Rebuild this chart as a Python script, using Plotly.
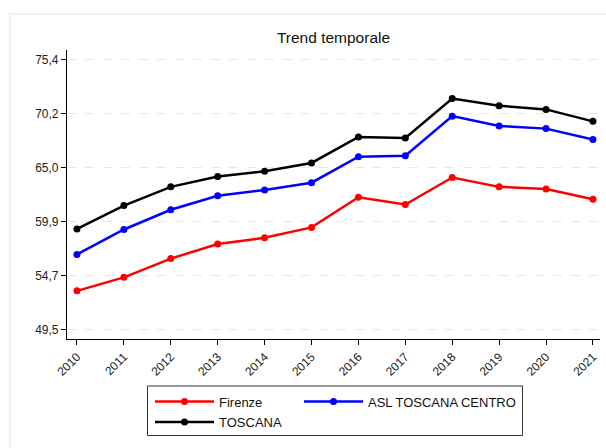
import plotly.graph_objects as go

years = [2010, 2011, 2012, 2013, 2014, 2015, 2016, 2017, 2018, 2019, 2020, 2021]
firenze = [53.2, 54.5, 56.3, 57.7, 58.3, 59.3, 62.2, 61.5, 64.1, 63.2, 63.0, 62.0]
asl_centro = [56.7, 59.1, 61.0, 62.35, 62.9, 63.6, 66.1, 66.2, 70.0, 69.05, 68.8, 67.75]
toscana = [59.15, 61.4, 63.2, 64.2, 64.7, 65.5, 68.0, 67.9, 71.7, 71.0, 70.65, 69.5]

y_tickvals = [49.5, 54.68, 59.86, 65.04, 70.22, 75.4]
y_ticktext = ["49,5", "54,7", "59,9", "65,0", "70,2", "75,4"]

FONT = "Liberation Sans, Arial, sans-serif"

fig = go.Figure()
series = [
    ("Firenze", firenze, "#ff0000", "legend"),
    ("ASL TOSCANA CENTRO", asl_centro, "#0000ff", "legend2"),
    ("TOSCANA", toscana, "#000000", "legend3"),
]
for name, vals, col, lg in series:
    fig.add_trace(go.Scatter(
        x=years, y=vals, name=name, mode="lines+markers",
        line=dict(color=col, width=2.5),
        marker=dict(color=col, size=7),
        legend=lg,
    ))

W, H = 606, 448
L, R, T, B = 67, 6, 50, 109
pw, ph = W - L - R, H - T - B

def px(x):
    return (x - L) / pw

def py(y):
    return (H - B - y) / ph

def leg(x, y):
    return dict(orientation="h", x=px(x), y=py(y), xanchor="left", yanchor="top",
                bgcolor="rgba(0,0,0,0)", borderwidth=0, itemwidth=59,
                font=dict(family=FONT, size=13, color="#111"))

fig.update_layout(
    width=W, height=H,
    margin=dict(l=L, r=R, t=T, b=B),
    paper_bgcolor="white", plot_bgcolor="white",
    font=dict(family=FONT, size=12, color="#222"),
    title=dict(text="Trend temporale", x=0.5, xref="paper", xanchor="center",
               y=1 - 38 / H, yanchor="middle",
               font=dict(family=FONT, size=15.5, color="#111")),
    showlegend=True,
    legend=leg(150, 386.5),
    legend2=leg(299, 386.5),
    legend3=leg(150, 407),
    shapes=[
        dict(type="rect", xref="paper", yref="paper",
             x0=px(10), x1=px(620), y0=py(460), y1=py(14),
             line=dict(color="#e4edf0", width=1.5), fillcolor="rgba(0,0,0,0)", layer="below"),
        dict(type="rect", xref="paper", yref="paper",
             x0=px(147.5), x1=px(522.5), y0=py(435.5), y1=py(386),
             line=dict(color="#333", width=1), fillcolor="rgba(0,0,0,0)"),
    ],
)

fig.update_xaxes(
    range=[2009.787, 2021.15], tickmode="array", tickvals=years,
    ticktext=[str(y) for y in years], tickangle=-45,
    showline=True, linecolor="#000", linewidth=1.2,
    ticks="outside", ticklen=5, tickcolor="#000", showgrid=False, zeroline=False,
    tickfont=dict(family=FONT, size=12, color="#222"),
)
fig.update_yaxes(
    range=[48.57, 76.36], tickmode="array", tickvals=y_tickvals, ticktext=y_ticktext,
    showline=True, linecolor="#000", linewidth=1.2,
    ticks="outside", ticklen=5, tickcolor="#000",
    showgrid=True, gridcolor="#e8e8e8", griddash="dash", gridwidth=1, zeroline=False,
    tickfont=dict(family=FONT, size=12, color="#222"),
)

fig.write_html("out.html", config={"displayModeBar": False},
               post_script="document.body.style.margin='0px';document.body.style.overflow='hidden';")
